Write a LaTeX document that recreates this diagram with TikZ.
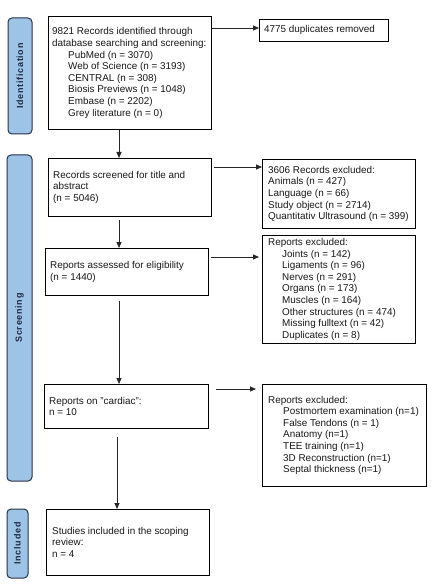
\documentclass[tikz,border=0pt]{standalone}
\usepackage{fontspec}
\setmainfont{Liberation Sans}
\usetikzlibrary{arrows.meta,calc}
\definecolor{sidefill}{RGB}{157,195,230}
\definecolor{sideline}{RGB}{38,50,70}
\definecolor{sidetext}{RGB}{30,42,66}
\begin{document}
\begin{tikzpicture}[x=1pt,y=-1pt,
  box/.style={draw=black, line width=0.8pt, anchor=north west, inner sep=0pt, fill=white},
  txt/.style={anchor=west, align=left, inner sep=0pt, font=\fontsize{9.9}{11.6}\selectfont, text=black!90},
  arr/.style={-{Triangle[length=6pt,width=5pt]}, line width=0.8pt, draw=black!85},
  side/.style={draw=sideline, fill=sidefill, rounded corners=4pt, line width=1pt, rotate=90, inner sep=0pt,
    font=\bfseries\fontsize{9}{10}\selectfont\addfontfeature{LetterSpace=8}, text=sidetext}]
\useasboundingbox (0,0) rectangle (446,585);
\fill[white] (0,0) rectangle (446,585);
% sidebars
\node[side, minimum width=116pt, minimum height=24pt] (sid) at (20,76) {Identification};
\node[side, minimum width=326pt, minimum height=25pt] (sscr) at (19.5,318) {Screening};
\node[side, minimum width=69pt, minimum height=21pt] (sinc) at (17.5,543.5) {Included};
% boxes
\node[box, minimum width=163pt, minimum height=113pt] (b1) at (48,16) {};
\node[txt] (b1t) at ([xshift=4pt]b1.west) {9821 Records identified through\\database searching and screening:\\
\hspace*{16pt}PubMed (n = 3070)\\\hspace*{16pt}Web of Science (n = 3193)\\\hspace*{16pt}CENTRAL (n = 308)\\
\hspace*{16pt}Biosis Previews (n = 1048)\\\hspace*{16pt}Embase (n = 2202)\\\hspace*{16pt}Grey literature (n = 0)};
\node[box, minimum width=129pt, minimum height=22pt] (dup) at (259,19) {};
\node[txt] (dupt) at ([xshift=5pt]dup.west) {4775 duplicates removed};
\node[box, minimum width=163pt, minimum height=58pt] (b2) at (48,158) {};
\node[txt] (b2t) at ([xshift=5pt]b2.west) {Records screened for title and\\abstract\\(n = 5046)};
\node[box, minimum width=153pt, minimum height=69pt] (ex1) at (262,159) {};
\node[txt] (ex1t) at ([xshift=6pt]ex1.west) {3606 Records excluded:\\Animals (n = 427)\\Language (n = 66)\\Study object (n = 2714)\\Quantitativ Ultrasound (n = 399)};
\node[box, minimum width=163pt, minimum height=47pt] (b3) at (45,248) {};
\node[txt] (b3t) at ([xshift=5pt]b3.west) {Reports assessed for eligibility\\(n = 1440)};
\node[box, minimum width=153pt, minimum height=108pt] (ex2) at (262,235) {};
\node[txt] (ex2t) at ([xshift=6pt]ex2.west) {Reports excluded:\\\hspace*{14pt}Joints (n = 142)\\\hspace*{14pt}Ligaments (n = 96)\\
\hspace*{14pt}Nerves (n = 291)\\\hspace*{14pt}Organs (n = 173)\\\hspace*{14pt}Muscles (n = 164)\\
\hspace*{14pt}Other structures (n = 474)\\\hspace*{14pt}Missing fulltext (n = 42)\\\hspace*{14pt}Duplicates (n = 8)};
\node[box, minimum width=164pt, minimum height=44pt] (b4) at (44,384) {};
\node[txt] (b4t) at ([xshift=5pt]b4.west) {Reports on "cardiac":\\n = 10};
\node[box, minimum width=164pt, minimum height=102pt] (ex3) at (262,384) {};
\node[txt] (ex3t) at ([xshift=6pt]ex3.west) {Reports excluded:\\\hspace*{15pt}Postmortem examination (n=1)\\
\hspace*{15pt}False Tendons (n = 1)\\\hspace*{15pt}Anatomy (n=1)\\\hspace*{15pt}TEE training (n=1)\\
\hspace*{15pt}3D Reconstruction (n=1)\\\hspace*{15pt}Septal thickness (n=1)};
\node[box, minimum width=163pt, minimum height=66pt] (b5) at (46,509) {};
\node[txt] (b5t) at ([xshift=6pt]b5.west) {Studies included in the scoping\\review:\\n = 4};
% connectors
\coordinate (col) at (119,0);
\coordinate (colb) at (117,0);
\draw[arr] (b1.south -| col) -- (b2.north -| col);
\draw[arr, shorten <=3pt] (b2.south -| col) -- (b3.north -| col);
\draw[arr, shorten <=5pt] (b3.south -| col) -- (b4.north -| col);
\draw[arr, shorten <=8pt] (b4.south -| colb) -- (b5.north -| colb);
\coordinate (h1) at ($(b1.north east)+(0,12)$);
\draw[arr] (h1) -- (h1 -| dup.west);
\coordinate (h2) at ($(b2.north east)+(2,9)$);
\draw[arr] (h2) -- (h2 -| ex1.west);
\coordinate (h3) at ($(b3.north east)+(2,9)$);
\draw[arr, shorten >=3pt] (h3) -- (h3 -| ex2.west);
\coordinate (h4) at ($(b4.north east)+(7,5)$);
\draw[arr, shorten >=6pt] (h4) -- (h4 -| ex3.west);
\end{tikzpicture}
\end{document}
